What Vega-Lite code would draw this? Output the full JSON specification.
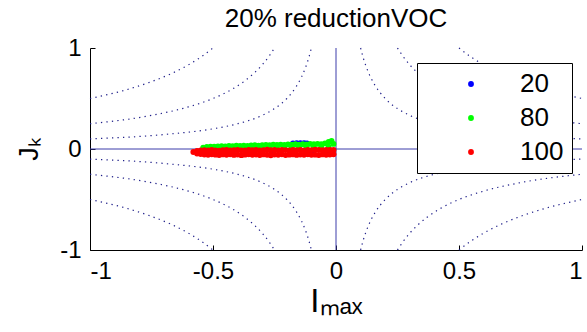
{
  "$schema": "https://vega.github.io/schema/vega-lite/v6.json",
  "width": 492,
  "height": 202,
  "autosize": {"type": "none"},
  "padding": {"left": 90, "top": 48, "right": 5, "bottom": 82},
  "background": "white",
  "config": {
    "font": "Liberation Sans",
    "view": {"stroke": null},
    "axis": {
      "grid": false,
      "domainColor": "black",
      "domainWidth": 1,
      "tickColor": "black",
      "tickSize": -5,
      "labelFont": "Liberation Sans",
      "labelFontSize": 24,
      "labelColor": "black",
      "titleFont": "Liberation Sans",
      "titleFontWeight": "normal",
      "titleColor": "black"
    }
  },
  "title": {
    "text": "20% reductionVOC",
    "font": "Liberation Sans",
    "fontSize": 26,
    "fontWeight": "normal",
    "color": "black",
    "anchor": "middle",
    "offset": 4
  },
  "datasets": {
    "contours": [
      {"k": "a1", "x": 0.1, "y": 1}, {"k": "a1", "x": 0.11, "y": 0.909}, {"k": "a1", "x": 0.125, "y": 0.8}, {"k": "a1", "x": 0.14, "y": 0.714}, {"k": "a1", "x": 0.16, "y": 0.625}, {"k": "a1", "x": 0.2, "y": 0.5}, {"k": "a1", "x": 0.25, "y": 0.4}, {"k": "a1", "x": 0.3, "y": 0.333}, {"k": "a1", "x": 0.4, "y": 0.25}, {"k": "a1", "x": 0.5, "y": 0.2}, {"k": "a1", "x": 0.7, "y": 0.143}, {"k": "a1", "x": 1, "y": 0.1},
      {"k": "b1", "x": 0.25, "y": 1}, {"k": "b1", "x": 0.27, "y": 0.926}, {"k": "b1", "x": 0.3, "y": 0.833}, {"k": "b1", "x": 0.33, "y": 0.758}, {"k": "b1", "x": 0.37, "y": 0.676}, {"k": "b1", "x": 0.42, "y": 0.595}, {"k": "b1", "x": 0.5, "y": 0.5}, {"k": "b1", "x": 0.6, "y": 0.417}, {"k": "b1", "x": 0.75, "y": 0.333}, {"k": "b1", "x": 1, "y": 0.25},
      {"k": "c1", "x": 0.5, "y": 1}, {"k": "c1", "x": 0.55, "y": 0.909}, {"k": "c1", "x": 0.6, "y": 0.833}, {"k": "c1", "x": 0.67, "y": 0.746}, {"k": "c1", "x": 0.75, "y": 0.667}, {"k": "c1", "x": 0.85, "y": 0.588}, {"k": "c1", "x": 1, "y": 0.5},
      {"k": "a2", "x": -0.1, "y": 1}, {"k": "a2", "x": -0.11, "y": 0.909}, {"k": "a2", "x": -0.125, "y": 0.8}, {"k": "a2", "x": -0.14, "y": 0.714}, {"k": "a2", "x": -0.16, "y": 0.625}, {"k": "a2", "x": -0.2, "y": 0.5}, {"k": "a2", "x": -0.25, "y": 0.4}, {"k": "a2", "x": -0.3, "y": 0.333}, {"k": "a2", "x": -0.4, "y": 0.25}, {"k": "a2", "x": -0.5, "y": 0.2}, {"k": "a2", "x": -0.7, "y": 0.143}, {"k": "a2", "x": -1, "y": 0.1},
      {"k": "b2", "x": -0.25, "y": 1}, {"k": "b2", "x": -0.27, "y": 0.926}, {"k": "b2", "x": -0.3, "y": 0.833}, {"k": "b2", "x": -0.33, "y": 0.758}, {"k": "b2", "x": -0.37, "y": 0.676}, {"k": "b2", "x": -0.42, "y": 0.595}, {"k": "b2", "x": -0.5, "y": 0.5}, {"k": "b2", "x": -0.6, "y": 0.417}, {"k": "b2", "x": -0.75, "y": 0.333}, {"k": "b2", "x": -1, "y": 0.25},
      {"k": "c2", "x": -0.5, "y": 1}, {"k": "c2", "x": -0.55, "y": 0.909}, {"k": "c2", "x": -0.6, "y": 0.833}, {"k": "c2", "x": -0.67, "y": 0.746}, {"k": "c2", "x": -0.75, "y": 0.667}, {"k": "c2", "x": -0.85, "y": 0.588}, {"k": "c2", "x": -1, "y": 0.5},
      {"k": "a3", "x": -0.1, "y": -1}, {"k": "a3", "x": -0.11, "y": -0.909}, {"k": "a3", "x": -0.125, "y": -0.8}, {"k": "a3", "x": -0.14, "y": -0.714}, {"k": "a3", "x": -0.16, "y": -0.625}, {"k": "a3", "x": -0.2, "y": -0.5}, {"k": "a3", "x": -0.25, "y": -0.4}, {"k": "a3", "x": -0.3, "y": -0.333}, {"k": "a3", "x": -0.4, "y": -0.25}, {"k": "a3", "x": -0.5, "y": -0.2}, {"k": "a3", "x": -0.7, "y": -0.143}, {"k": "a3", "x": -1, "y": -0.1},
      {"k": "b3", "x": -0.25, "y": -1}, {"k": "b3", "x": -0.27, "y": -0.926}, {"k": "b3", "x": -0.3, "y": -0.833}, {"k": "b3", "x": -0.33, "y": -0.758}, {"k": "b3", "x": -0.37, "y": -0.676}, {"k": "b3", "x": -0.42, "y": -0.595}, {"k": "b3", "x": -0.5, "y": -0.5}, {"k": "b3", "x": -0.6, "y": -0.417}, {"k": "b3", "x": -0.75, "y": -0.333}, {"k": "b3", "x": -1, "y": -0.25},
      {"k": "c3", "x": -0.5, "y": -1}, {"k": "c3", "x": -0.55, "y": -0.909}, {"k": "c3", "x": -0.6, "y": -0.833}, {"k": "c3", "x": -0.67, "y": -0.746}, {"k": "c3", "x": -0.75, "y": -0.667}, {"k": "c3", "x": -0.85, "y": -0.588}, {"k": "c3", "x": -1, "y": -0.5},
      {"k": "a4", "x": 0.1, "y": -1}, {"k": "a4", "x": 0.11, "y": -0.909}, {"k": "a4", "x": 0.125, "y": -0.8}, {"k": "a4", "x": 0.14, "y": -0.714}, {"k": "a4", "x": 0.16, "y": -0.625}, {"k": "a4", "x": 0.2, "y": -0.5}, {"k": "a4", "x": 0.25, "y": -0.4}, {"k": "a4", "x": 0.3, "y": -0.333}, {"k": "a4", "x": 0.4, "y": -0.25}, {"k": "a4", "x": 0.5, "y": -0.2}, {"k": "a4", "x": 0.7, "y": -0.143}, {"k": "a4", "x": 1, "y": -0.1},
      {"k": "b4", "x": 0.25, "y": -1}, {"k": "b4", "x": 0.27, "y": -0.926}, {"k": "b4", "x": 0.3, "y": -0.833}, {"k": "b4", "x": 0.33, "y": -0.758}, {"k": "b4", "x": 0.37, "y": -0.676}, {"k": "b4", "x": 0.42, "y": -0.595}, {"k": "b4", "x": 0.5, "y": -0.5}, {"k": "b4", "x": 0.6, "y": -0.417}, {"k": "b4", "x": 0.75, "y": -0.333}, {"k": "b4", "x": 1, "y": -0.25},
      {"k": "c4", "x": 0.5, "y": -1}, {"k": "c4", "x": 0.55, "y": -0.909}, {"k": "c4", "x": 0.6, "y": -0.833}, {"k": "c4", "x": 0.67, "y": -0.746}, {"k": "c4", "x": 0.75, "y": -0.667}, {"k": "c4", "x": 0.85, "y": -0.588}, {"k": "c4", "x": 1, "y": -0.5}
    ],
    "pts": [
      {"g": "20", "x": -0.5, "y": -0.03}, {"g": "20", "x": -0.42, "y": -0.035}, {"g": "20", "x": -0.34, "y": -0.03}, {"g": "20", "x": -0.26, "y": -0.032}, {"g": "20", "x": -0.18, "y": -0.03}, {"g": "20", "x": -0.1, "y": -0.033}, {"g": "20", "x": -0.04, "y": -0.03},
      {"g": "20", "x": -0.175, "y": 0.056}, {"g": "20", "x": -0.16, "y": 0.058}, {"g": "20", "x": -0.145, "y": 0.057}, {"g": "20", "x": -0.13, "y": 0.058}, {"g": "20", "x": -0.118, "y": 0.056},

      {"g": "80", "x": -0.54, "y": 0.012}, {"g": "80", "x": -0.51, "y": 0.015}, {"g": "80", "x": -0.48, "y": 0.013}, {"g": "80", "x": -0.45, "y": 0.016}, {"g": "80", "x": -0.42, "y": 0.014}, {"g": "80", "x": -0.39, "y": 0.017}, {"g": "80", "x": -0.36, "y": 0.015}, {"g": "80", "x": -0.33, "y": 0.018}, {"g": "80", "x": -0.3, "y": 0.016}, {"g": "80", "x": -0.27, "y": 0.018}, {"g": "80", "x": -0.24, "y": 0.017}, {"g": "80", "x": -0.21, "y": 0.019}, {"g": "80", "x": -0.18, "y": 0.018}, {"g": "80", "x": -0.15, "y": 0.02}, {"g": "80", "x": -0.12, "y": 0.019}, {"g": "80", "x": -0.09, "y": 0.021}, {"g": "80", "x": -0.06, "y": 0.02}, {"g": "80", "x": -0.03, "y": 0.022},
      {"g": "80", "x": -0.525, "y": 0.02}, {"g": "80", "x": -0.51, "y": 0.024}, {"g": "80", "x": -0.495, "y": 0.022}, {"g": "80", "x": -0.48, "y": 0.026}, {"g": "80", "x": -0.465, "y": 0.028}, {"g": "80", "x": -0.45, "y": 0.025}, {"g": "80", "x": -0.435, "y": 0.03}, {"g": "80", "x": -0.42, "y": 0.028}, {"g": "80", "x": -0.405, "y": 0.032}, {"g": "80", "x": -0.39, "y": 0.03}, {"g": "80", "x": -0.375, "y": 0.034}, {"g": "80", "x": -0.36, "y": 0.031}, {"g": "80", "x": -0.345, "y": 0.035}, {"g": "80", "x": -0.33, "y": 0.038}, {"g": "80", "x": -0.315, "y": 0.034}, {"g": "80", "x": -0.3, "y": 0.039}, {"g": "80", "x": -0.285, "y": 0.041}, {"g": "80", "x": -0.27, "y": 0.037}, {"g": "80", "x": -0.255, "y": 0.042}, {"g": "80", "x": -0.24, "y": 0.04}, {"g": "80", "x": -0.225, "y": 0.044}, {"g": "80", "x": -0.21, "y": 0.041}, {"g": "80", "x": -0.195, "y": 0.045}, {"g": "80", "x": -0.18, "y": 0.043}, {"g": "80", "x": -0.165, "y": 0.047}, {"g": "80", "x": -0.15, "y": 0.044}, {"g": "80", "x": -0.135, "y": 0.048}, {"g": "80", "x": -0.12, "y": 0.046}, {"g": "80", "x": -0.105, "y": 0.05}, {"g": "80", "x": -0.09, "y": 0.047}, {"g": "80", "x": -0.075, "y": 0.051}, {"g": "80", "x": -0.06, "y": 0.049}, {"g": "80", "x": -0.045, "y": 0.055}, {"g": "80", "x": -0.03, "y": 0.07}, {"g": "80", "x": -0.018, "y": 0.08}, {"g": "80", "x": -0.01, "y": 0.05},

      {"g": "100", "x": -0.58, "y": -0.03}, {"g": "100", "x": -0.565, "y": -0.02}, {"g": "100", "x": -0.55, "y": -0.015}, {"g": "100", "x": -0.535, "y": -0.012}, {"g": "100", "x": -0.52, "y": -0.014}, {"g": "100", "x": -0.505, "y": -0.01}, {"g": "100", "x": -0.49, "y": -0.013}, {"g": "100", "x": -0.475, "y": -0.016}, {"g": "100", "x": -0.46, "y": -0.011}, {"g": "100", "x": -0.445, "y": -0.009}, {"g": "100", "x": -0.43, "y": -0.014}, {"g": "100", "x": -0.415, "y": -0.012}, {"g": "100", "x": -0.4, "y": -0.008}, {"g": "100", "x": -0.385, "y": -0.013}, {"g": "100", "x": -0.37, "y": -0.015}, {"g": "100", "x": -0.355, "y": -0.01}, {"g": "100", "x": -0.34, "y": -0.012}, {"g": "100", "x": -0.325, "y": -0.009}, {"g": "100", "x": -0.31, "y": -0.014}, {"g": "100", "x": -0.295, "y": -0.011}, {"g": "100", "x": -0.28, "y": -0.007}, {"g": "100", "x": -0.265, "y": -0.012}, {"g": "100", "x": -0.25, "y": -0.01}, {"g": "100", "x": -0.235, "y": -0.013}, {"g": "100", "x": -0.22, "y": -0.009}, {"g": "100", "x": -0.205, "y": -0.011}, {"g": "100", "x": -0.19, "y": -0.014}, {"g": "100", "x": -0.175, "y": -0.008}, {"g": "100", "x": -0.16, "y": -0.012}, {"g": "100", "x": -0.145, "y": -0.01}, {"g": "100", "x": -0.13, "y": -0.013}, {"g": "100", "x": -0.115, "y": -0.009}, {"g": "100", "x": -0.1, "y": -0.011}, {"g": "100", "x": -0.085, "y": -0.006}, {"g": "100", "x": -0.07, "y": -0.01}, {"g": "100", "x": -0.055, "y": -0.012}, {"g": "100", "x": -0.04, "y": -0.008}, {"g": "100", "x": -0.025, "y": -0.01}, {"g": "100", "x": -0.01, "y": -0.009},
      {"g": "100", "x": -0.565, "y": -0.045}, {"g": "100", "x": -0.55, "y": -0.05}, {"g": "100", "x": -0.535, "y": -0.055}, {"g": "100", "x": -0.52, "y": -0.058}, {"g": "100", "x": -0.505, "y": -0.053}, {"g": "100", "x": -0.49, "y": -0.056}, {"g": "100", "x": -0.475, "y": -0.06}, {"g": "100", "x": -0.46, "y": -0.054}, {"g": "100", "x": -0.445, "y": -0.057}, {"g": "100", "x": -0.43, "y": -0.052}, {"g": "100", "x": -0.415, "y": -0.059}, {"g": "100", "x": -0.4, "y": -0.055}, {"g": "100", "x": -0.385, "y": -0.061}, {"g": "100", "x": -0.37, "y": -0.056}, {"g": "100", "x": -0.355, "y": -0.053}, {"g": "100", "x": -0.34, "y": -0.058}, {"g": "100", "x": -0.325, "y": -0.055}, {"g": "100", "x": -0.31, "y": -0.06}, {"g": "100", "x": -0.295, "y": -0.054}, {"g": "100", "x": -0.28, "y": -0.057}, {"g": "100", "x": -0.265, "y": -0.062}, {"g": "100", "x": -0.25, "y": -0.055}, {"g": "100", "x": -0.235, "y": -0.058}, {"g": "100", "x": -0.22, "y": -0.053}, {"g": "100", "x": -0.205, "y": -0.06}, {"g": "100", "x": -0.19, "y": -0.056}, {"g": "100", "x": -0.175, "y": -0.054}, {"g": "100", "x": -0.16, "y": -0.059}, {"g": "100", "x": -0.145, "y": -0.055}, {"g": "100", "x": -0.13, "y": -0.057}, {"g": "100", "x": -0.115, "y": -0.053}, {"g": "100", "x": -0.1, "y": -0.058}, {"g": "100", "x": -0.085, "y": -0.056}, {"g": "100", "x": -0.07, "y": -0.06}, {"g": "100", "x": -0.055, "y": -0.054}, {"g": "100", "x": -0.04, "y": -0.057}, {"g": "100", "x": -0.025, "y": -0.055}, {"g": "100", "x": -0.01, "y": -0.052}
    ]
  },
  "layer": [
    {
      "data": {"name": "contours"},
      "mark": {"type": "line", "interpolate": "monotone", "color": "#20208a", "strokeWidth": 1.2, "strokeDash": [1.3, 4.2], "strokeCap": "butt"},
      "encoding": {
        "x": {
          "field": "x", "type": "quantitative",
          "scale": {"domain": [-1, 1], "nice": false, "zero": false},
          "axis": {"values": [-1, -0.5, 0, 0.5, 1], "labelExpr": "datum.value + ''", "labelPadding": 14, "title": "Iₘₐₓ", "titleFontSize": 33, "titlePadding": 2}
        },
        "y": {
          "field": "y", "type": "quantitative",
          "scale": {"domain": [-1, 1], "nice": false, "zero": false},
          "axis": {"values": [-1, 0, 1], "labelExpr": "datum.value + ''", "labelPadding": 14, "title": "Jₖ", "titleFontSize": 27, "titlePadding": 16}
        },
        "detail": {"field": "k"}
      }
    },
    {
      "data": {"values": [{}]},
      "mark": {"type": "rule", "color": "#3c3caa", "strokeWidth": 1},
      "encoding": {"x": {"datum": 0, "type": "quantitative"}}
    },
    {
      "data": {"values": [{}]},
      "mark": {"type": "rule", "color": "#3c3caa", "strokeWidth": 1},
      "encoding": {"y": {"datum": 0, "type": "quantitative"}}
    },
    {
      "data": {"name": "pts"},
      "mark": {"type": "point", "filled": true, "size": 34, "opacity": 1},
      "encoding": {
        "x": {"field": "x", "type": "quantitative"},
        "y": {"field": "y", "type": "quantitative"},
        "color": {
          "field": "g", "type": "nominal",
          "scale": {"domain": ["20", "80", "100"], "range": ["#0000ff", "#00ff00", "#ff0000"]},
          "legend": {
            "orient": "none", "legendX": 327, "legendY": 15,
            "title": null,
            "strokeColor": "black", "fillColor": "white", "padding": 8,
            "symbolOffset": 33, "labelOffset": 36, "symbolType": "circle", "symbolSize": 34,
            "symbolStrokeWidth": 0, "labelFontSize": 26, "labelColor": "black", "rowPadding": 8
          }
        }
      }
    }
  ]
}
